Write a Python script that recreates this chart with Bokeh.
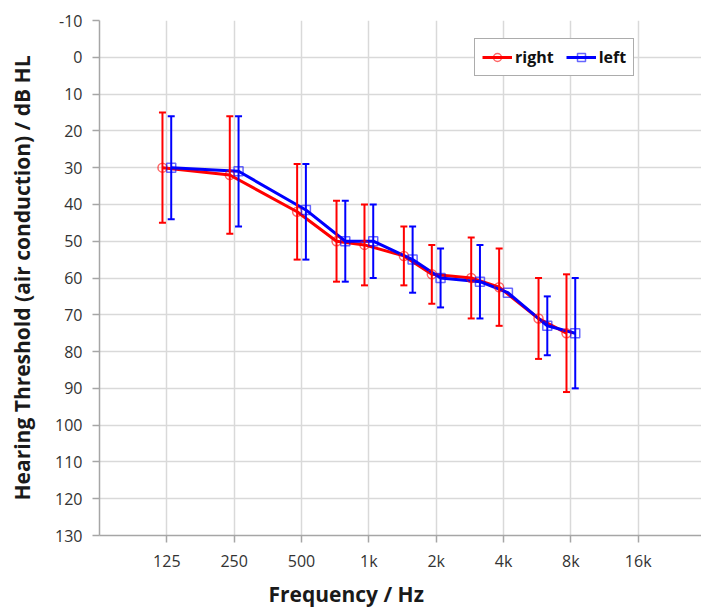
import numpy as np
from bokeh.plotting import figure
from bokeh.models import (ColumnDataSource, Range1d, FixedTicker, Whisker, TeeHead,
                          Legend, LegendItem, Title)
from bokeh.transform import dodge
from bokeh.embed import file_html
from bokeh.resources import INLINE

# ---- data ----
freqs = [125, 250, 500, 750, 1000, 1500, 2000, 3000, 4000, 6000, 8000]
right_mean = [30, 32, 42, 50, 51, 54, 59, 60, 62.5, 71, 75]
right_lo = [15, 16, 29, 39, 40, 46, 51, 49, 52, 60, 59]
right_hi = [45, 48, 55, 61, 62, 62, 67, 71, 73, 82, 91]
left_mean = [30, 31, 41.5, 50, 50, 55, 60, 61, 64, 73, 75]
left_lo = [16, 16, 29, 39, 40, 46, 52, 51, np.nan, 65, 60]
left_hi = [44, 46, 55, 61, 60, 64, 68, 71, np.nan, 81, 90]

tick_freqs = [125, 250, 500, 1000, 2000, 4000, 8000, 16000]
tick_labels = ["125", "250", "500", "1k", "2k", "4k", "8k", "16k"]
y_ticks = list(range(-10, 131, 10))

FONT = "Open Sans"
oct_x = np.log2(np.array(freqs) / 125.0)
src = ColumnDataSource(dict(x=oct_x, rm=right_mean, rlo=right_lo, rhi=right_hi,
                            lm=left_mean, llo=left_lo, lhi=left_hi))
tick_x = list(np.log2(np.array(tick_freqs) / 125.0))

p = figure(width=701, height=610, output_backend="svg", toolbar_location=None,
           x_range=Range1d(-1, 7.94), y_range=Range1d(130, -10),
           min_border_left=99, min_border_top=20, min_border_right=0,
           min_border_bottom=73)
p.outline_line_color = None

# axes
p.xaxis.ticker = FixedTicker(ticks=tick_x)
p.xaxis.major_label_overrides = {t: l for t, l in zip(tick_x, tick_labels)}
p.yaxis.ticker = FixedTicker(ticks=y_ticks)
p.yaxis.major_label_overrides = {t: str(t) for t in y_ticks}
for ax in (p.xaxis, p.yaxis):
    ax.axis_line_color = "#a6a6a6"
    ax.axis_line_width = 1.5
    ax.major_tick_line_color = "#a6a6a6"
    ax.major_tick_line_width = 1.5
    ax.major_tick_in = 0
    ax.major_tick_out = 7
    ax.minor_tick_line_color = None
    ax.major_label_text_font = FONT
    ax.major_label_text_font_size = "16px"
    ax.major_label_text_color = "#333333"
p.yaxis.major_label_standoff = 10
p.xaxis.major_label_standoff = 7
p.yaxis.axis_label = "Hearing Threshold (air conduction) / dB HL"
p.yaxis.axis_label_text_font = FONT
p.yaxis.axis_label_text_font_size = "21px"
p.yaxis.axis_label_text_font_style = "bold"
p.yaxis.axis_label_text_color = "#1a1a1a"
p.yaxis.axis_label_standoff = 16

p.xgrid.ticker = FixedTicker(ticks=tick_x)
p.ygrid.ticker = FixedTicker(ticks=y_ticks)
for g in (p.xgrid, p.ygrid):
    g.grid_line_color = "#d9d9d9"
    g.grid_line_width = 1.5

xt = Title(text="Frequency / Hz", align="left", offset=169, text_font=FONT,
           text_font_size="21px", text_font_style="bold", text_color="#1a1a1a",
           standoff=6)
p.add_layout(xt, "below")

RED = "#ff0000"
BLUE = "#0000ff"
DR = -0.065
DL = 0.065

# error bars
for col_lo, col_hi, d, c in (("rlo", "rhi", DR, RED), ("llo", "lhi", DL, BLUE)):
    w = Whisker(base=dodge("x", d), lower=col_lo, upper=col_hi, source=src,
                line_color=c, line_width=2, level="glyph",
                upper_head=TeeHead(size=7, line_color=c, line_width=2),
                lower_head=TeeHead(size=7, line_color=c, line_width=2))
    p.add_layout(w)

rl = p.line(x=dodge("x", DR), y="rm", source=src, line_color=RED, line_width=3)
ll = p.line(x=dodge("x", DL), y="lm", source=src, line_color=BLUE, line_width=3)
rm = p.scatter(x=dodge("x", DR), y="rm", source=src, marker="circle", size=9,
               fill_alpha=0, line_color=RED, line_width=1.5, line_alpha=0.6)
lm = p.scatter(x=dodge("x", DL), y="lm", source=src, marker="square", size=9,
               fill_alpha=0, line_color=BLUE, line_width=1.5, line_alpha=0.6)

legend = Legend(items=[LegendItem(label="right", renderers=[rl, rm]),
                       LegendItem(label="left", renderers=[ll, lm])],
                orientation="horizontal", location=(375, 459),
                label_text_font=FONT, label_text_font_size="16px",
                label_text_font_style="bold", label_text_color="#111111",
                border_line_color="#595959", border_line_width=1.5,
                background_fill_alpha=1, glyph_width=30, label_standoff=3,
                spacing=12, padding=7, margin=0)
p.add_layout(legend)

open("out.html", "w").write(file_html(p, INLINE))
